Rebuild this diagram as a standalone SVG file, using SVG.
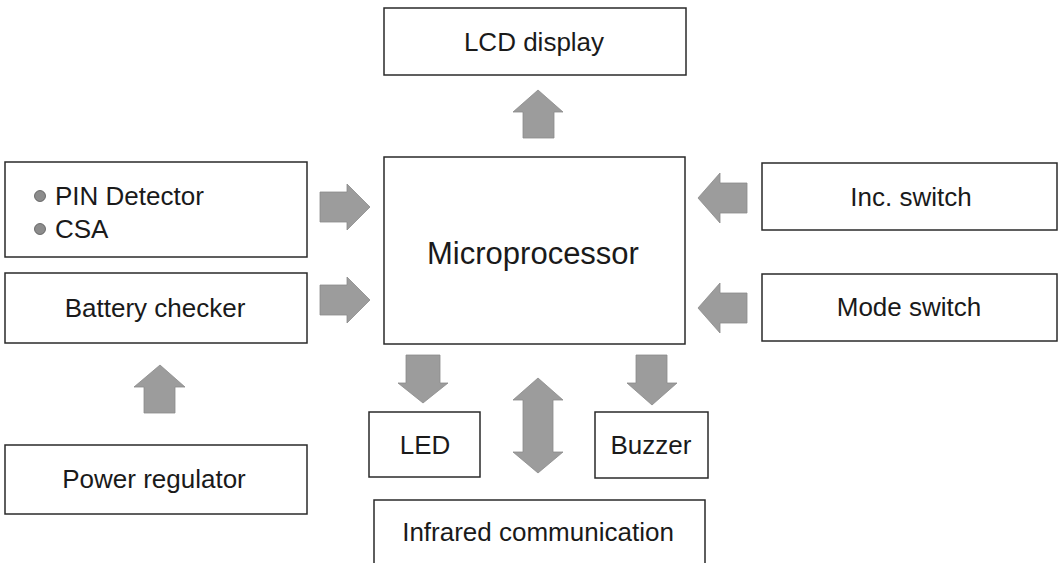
<svg xmlns="http://www.w3.org/2000/svg" width="1061" height="563" viewBox="0 0 1061 563">
<style>
.box{fill:#fff;stroke:#2a2a2a;stroke-width:1.5}
.t{font-family:"Liberation Sans",Arial,sans-serif;font-size:26px;fill:#1a1a1a;text-anchor:middle}
.arr{fill:#9c9c9c;stroke:#8a8a8a;stroke-width:0.8}
.dot{fill:#8c8c8c;stroke:#555;stroke-width:0.8}
</style>
<rect width="1061" height="563" fill="#fff"/>
<g id="lcd"><rect class="box" x="384" y="8" width="302" height="67"/><text class="t" x="534" y="51">LCD display</text></g>
<g id="micro"><rect class="box" x="384" y="157" width="301" height="187"/><text class="t" x="533" y="264" style="font-size:31px">Microprocessor</text></g>
<g id="pin"><rect class="box" x="5" y="162" width="302" height="95"/>
<circle class="dot" cx="40" cy="196" r="5.5"/><text class="t" x="55" y="205" style="text-anchor:start">PIN Detector</text>
<circle class="dot" cx="40" cy="229" r="5.5"/><text class="t" x="55" y="238" style="text-anchor:start">CSA</text></g>
<g id="battery"><rect class="box" x="5" y="273" width="302" height="70"/><text class="t" x="155" y="317">Battery checker</text></g>
<g id="power"><rect class="box" x="5" y="445" width="302" height="69"/><text class="t" x="154" y="488">Power regulator</text></g>
<g id="inc"><rect class="box" x="762" y="163" width="295" height="67"/><text class="t" x="911" y="206">Inc. switch</text></g>
<g id="mode"><rect class="box" x="762" y="274" width="295" height="67"/><text class="t" x="909" y="316">Mode switch</text></g>
<g id="led"><rect class="box" x="369" y="412" width="111" height="65"/><text class="t" x="425" y="454">LED</text></g>
<g id="buzzer"><rect class="box" x="595" y="412" width="113" height="66"/><text class="t" x="651" y="454">Buzzer</text></g>
<g id="infrared"><path class="box" d="M374,566 V500 H705 V566"/><text class="t" x="538" y="541">Infrared communication</text></g>
<g id="connectors">
<polygon class="arr" points="538,90 563,112 554,112 554,138 523,138 523,112 513,112"/>
<polygon class="arr" points="370,207 347,230 347,222 320,222 320,192 347,192 347,184"/>
<polygon class="arr" points="370,300 347,323 347,315 320,315 320,285 347,285 347,277"/>
<polygon class="arr" points="698,198 720,173 720,183 747,183 747,213 720,213 720,223"/>
<polygon class="arr" points="698,308 720,283 720,293 747,293 747,323 720,323 720,333"/>
<polygon class="arr" points="423,403 448,383 440,383 440,355 406,355 406,383 398,383"/>
<polygon class="arr" points="652,405 677,383 667,383 667,355 636,355 636,383 627,383"/>
<polygon class="arr" points="538,378 563,400 553,400 553,452 563,452 538,473 513,452 523,452 523,400 513,400"/>
<polygon class="arr" points="160,365 185,387 175,387 175,413 144,413 144,387 134,387"/>
</g>
</svg>
